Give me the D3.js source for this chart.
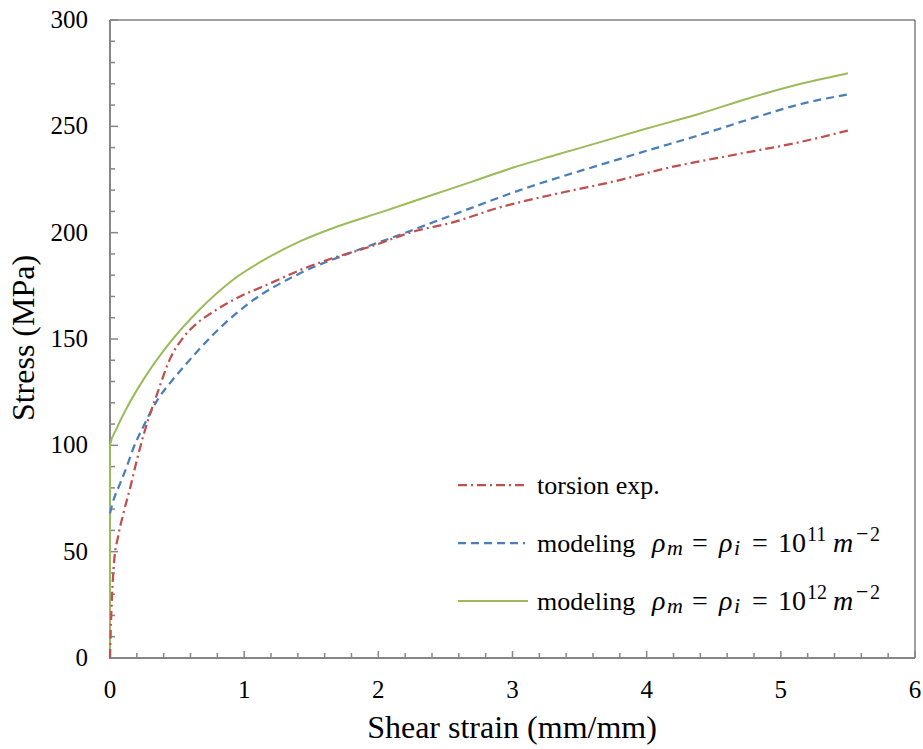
<!DOCTYPE html>
<html>
<head>
<meta charset="utf-8">
<script src="https://cdn.jsdelivr.net/npm/d3@7"></script>
<style>
    body { margin: 0; background: #fff; }
</style>
</head>
<body>
<div id="chart"></div>
<script>
// Data: [shear strain, stress MPa]
var torsionExp = [
    [0, 0], [0.005, 12], [0.015, 29], [0.03, 45], [0.06, 57], [0.1, 68], [0.15, 80],
    [0.2, 93], [0.26, 107], [0.35, 124], [0.45, 141], [0.55, 151], [0.65, 157.5],
    [0.75, 162], [0.97, 170], [1.17, 175.5], [1.42, 182.5], [1.66, 188], [1.92, 193],
    [2.29, 201], [2.54, 204.6], [2.89, 211.6], [3.38, 219], [3.75, 224], [4.16, 230.5],
    [4.65, 236.6], [5.15, 242.7], [5.5, 248]
];
var model11 = [
    [0, 68], [0.02, 73], [0.075, 82], [0.125, 90], [0.17, 98], [0.25, 109], [0.36, 122],
    [0.45, 129.5], [0.55, 137], [0.8, 154], [1.04, 167], [1.42, 181], [1.79, 190.5],
    [2.16, 199], [2.54, 208], [3.13, 221.6], [3.66, 232], [4.0, 238.5], [4.4, 246],
    [4.8, 254], [5.15, 260.5], [5.5, 265]
];
var model12 = [
    [0, 0], [0, 100], [0.05, 108], [0.12, 117], [0.25, 131], [0.43, 147], [0.67, 164],
    [0.92, 178], [1.17, 188], [1.42, 196], [1.7, 203], [2.04, 210], [2.39, 217.5],
    [2.7, 224], [3.0, 230.5], [3.32, 236.5], [3.66, 242.7], [4.0, 249], [4.4, 256],
    [4.75, 263], [5.15, 270], [5.5, 275]
];
var xTicks = [0, 1, 2, 3, 4, 5, 6];
var yTicks = [0, 50, 100, 150, 200, 250, 300];

var FONT = "Liberation Serif";

var series = [
    { name: "torsion", data: torsionExp, color: "#C0504D", dash: "9,4,2,4", width: 2.25 },
    { name: "m11", data: model11, color: "#4A7EBB", dash: "8,5", width: 2.25 },
    { name: "m12", data: model12, color: "#9BBB59", dash: null, width: 2 }
];

var W = 923, H = 749;
var x = d3.scaleLinear().domain([0, 6]).range([110, 915]);
var y = d3.scaleLinear().domain([0, 300]).range([658, 20]);

var svg = d3.select("#chart").append("svg")
    .attr("width", W)
    .attr("height", H);

// frame top + right
svg.append("path")
    .attr("d", "M" + x(0) + "," + y(300) + "H" + x(6) + "V" + y(0))
    .attr("fill", "none")
    .attr("stroke", "#404040")
    .attr("stroke-width", 1);

// minor / major ticks, drawn inward
var yMinor = d3.range(0, 301, 10);
svg.append("g").selectAll("line")
    .data(yMinor)
    .enter().append("line")
    .attr("x1", x(0))
    .attr("x2", function(d) { return d % 50 === 0 ? x(0) + 8 : x(0) + 5; })
    .attr("y1", function(d) { return y(d); })
    .attr("y2", function(d) { return y(d); })
    .attr("stroke", "#868686")
    .attr("stroke-width", 1.5);

var xMinor = d3.range(0, 31).map(function(i) { return i / 5; });
svg.append("g").selectAll("line")
    .data(xMinor)
    .enter().append("line")
    .attr("x1", function(d) { return x(d); })
    .attr("x2", function(d) { return x(d); })
    .attr("y1", y(0))
    .attr("y2", function(d, i) { return i % 5 === 0 ? y(0) - 7 : y(0) - 5; })
    .attr("stroke", "#868686")
    .attr("stroke-width", 1.5);

// axis lines
svg.append("path")
    .attr("d", "M" + x(0) + "," + y(300) + "V" + y(0) + "H" + x(6))
    .attr("fill", "none")
    .attr("stroke", "#868686")
    .attr("stroke-width", 2);

// tick labels
svg.append("g").selectAll("text")
    .data(yTicks)
    .enter().append("text")
    .attr("x", 88)
    .attr("y", function(d) { return y(d) + 8; })
    .attr("text-anchor", "end")
    .attr("font-family", FONT)
    .attr("font-size", 25)
    .text(function(d) { return d; });

svg.append("g").selectAll("text")
    .data(xTicks)
    .enter().append("text")
    .attr("x", function(d) { return x(d); })
    .attr("y", 698)
    .attr("text-anchor", "middle")
    .attr("font-family", FONT)
    .attr("font-size", 25)
    .text(function(d) { return d; });

// axis titles
svg.append("text")
    .attr("transform", "translate(34,338) rotate(-90)")
    .attr("text-anchor", "middle")
    .attr("font-family", FONT)
    .attr("font-size", 32)
    .text("Stress (MPa)");

svg.append("text")
    .attr("x", 512)
    .attr("y", 738)
    .attr("text-anchor", "middle")
    .attr("font-family", FONT)
    .attr("font-size", 32)
    .text("Shear strain (mm/mm)");

// curves
var line = d3.line()
    .x(function(d) { return x(d[0]); })
    .y(function(d) { return y(d[1]); })
    .curve(d3.curveMonotoneX);

svg.append("g").selectAll("path")
    .data(series.slice().reverse())
    .enter().append("path")
    .attr("d", function(d) { return line(d.data); })
    .attr("fill", "none")
    .attr("stroke", function(d) { return d.color; })
    .attr("stroke-width", function(d) { return d.width; })
    .attr("stroke-dasharray", function(d) { return d.dash; });

// legend
var legendRows = [
    { s: series[0], y: 485, label: "torsion exp.", exp: null },
    { s: series[1], y: 543, label: "modeling", exp: "11" },
    { s: series[2], y: 601, label: "modeling", exp: "12" }
];

var lg = svg.append("g").selectAll("g")
    .data(legendRows)
    .enter().append("g")
    .attr("transform", function(d) { return "translate(0," + d.y + ")"; });

lg.append("line")
    .attr("x1", 458)
    .attr("x2", function(d) { return d.s.dash ? 525 : 528; })
    .attr("y1", 0)
    .attr("y2", 0)
    .attr("stroke", function(d) { return d.s.color; })
    .attr("stroke-width", function(d) { return d.s.width; })
    .attr("stroke-dasharray", function(d) { return d.s.dash; });

lg.append("text")
    .attr("x", 537)
    .attr("y", 9)
    .attr("font-family", FONT)
    .attr("font-size", 26)
    .text(function(d) { return d.label; });

// rho_m = rho_i = 10^n m^-2
var math = lg.filter(function(d) { return d.exp; })
    .append("text")
    .attr("y", 9)
    .attr("font-family", FONT)
    .attr("font-size", 28);

math.append("tspan").attr("x", 652).attr("font-style", "italic").text("ρ");
math.append("tspan").attr("x", 667).attr("dy", 3).attr("font-style", "italic").attr("font-size", 22).text("m");
math.append("tspan").attr("x", 692).attr("dy", -3).text("=");
math.append("tspan").attr("x", 719).attr("font-style", "italic").text("ρ");
math.append("tspan").attr("x", 734).attr("dy", 3).attr("font-style", "italic").attr("font-size", 22).text("i");
math.append("tspan").attr("x", 752).attr("dy", -3).text("=");
math.append("tspan").attr("x", 778).text("10");
math.append("tspan").attr("x", 807).attr("dy", -11).attr("font-size", 20).text(function(d) { return d.exp; });
math.append("tspan").attr("x", 833).attr("dy", 11).attr("font-style", "italic").text("m");
math.append("tspan").attr("x", 856).attr("dy", -11).attr("font-size", 22).text("−");
math.append("tspan").attr("x", 870).attr("font-size", 20).text("2");
</script>
</body>
</html>
